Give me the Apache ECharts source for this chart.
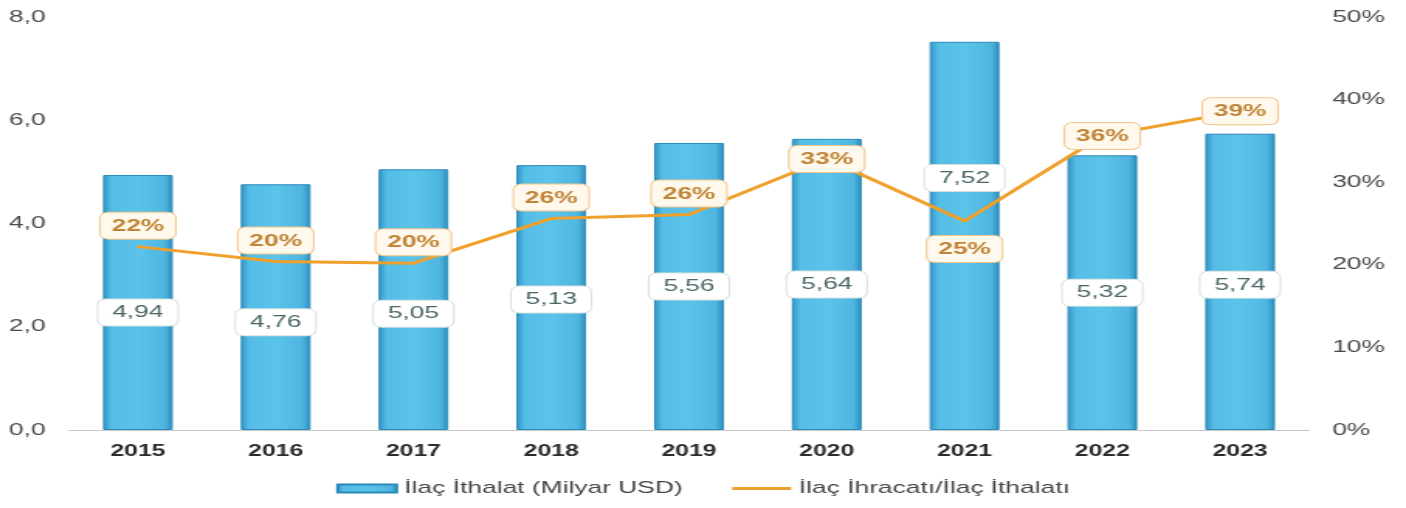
<!DOCTYPE html>
<html>
<head>
<meta charset="utf-8">
<script src="https://cdn.jsdelivr.net/npm/echarts@6/dist/echarts.min.js"></script>
<style>
    html, body { margin: 0; padding: 0; background: #fff; overflow: hidden; }
    /* the reference is stretched sideways, so draw narrow and widen it */
    #chart { width: 907px; height: 508px; transform: scaleX(1.5502); transform-origin: 0 0; }
</style>
</head>
<body>
<div id="chart"></div>
<script>
var years = ['2015', '2016', '2017', '2018', '2019', '2020', '2021', '2022', '2023'];
var ithalat = [4.94, 4.76, 5.05, 5.13, 5.56, 5.64, 7.52, 5.32, 5.74];
var oran = [22.2, 20.4, 20.2, 25.6, 26.1, 32.8, 25.3, 35.6, 38.6];
var leftTicks = [0, 2, 4, 6, 8];
var rightTicks = [0, 10, 20, 30, 40, 50];

var chart = echarts.init(document.getElementById('chart'));

var barColor = new echarts.graphic.LinearGradient(0, 0, 1, 0, [
    {offset: 0, color: '#2f93c4'},
    {offset: 0.12, color: '#55bde6'},
    {offset: 0.5, color: '#5cc3ea'},
    {offset: 0.88, color: '#4fb6e0'},
    {offset: 1, color: '#2c8cbc'}
]);

// value boxes are not all centred in the bars, nudge them like the original
var barShift = {'2015': 10, '2016': 15, '2017': 14, '2018': 2, '2023': 3, '2021': -58};
var barData = ithalat.map(function (v, i) {
    var d = {value: v};
    if (barShift[years[i]]) d.label = {offset: [0, barShift[years[i]]]};
    return d;
});
var linePos = {'2020': 'inside', '2021': 'bottom', '2022': 'inside', '2023': 'inside'};
var lineData = oran.map(function (v, i) {
    var d = {value: v};
    if (linePos[years[i]]) d.label = {position: linePos[years[i]], distance: 14};
    return d;
});

var option = {
    animation: false,
    textStyle: {fontFamily: 'Liberation Sans, Arial, sans-serif'},
    grid: {left: 44.5, right: 62.6, top: 17, bottom: 78},
    legend: {
        bottom: 6,
        left: 'center',
        itemGap: 32,
        itemWidth: 38,
        itemHeight: 8,
        textStyle: {fontSize: 17, color: '#444'},
        data: [
            {name: 'İlaç İthalat (Milyar USD)', icon: 'rect'},
            {name: 'İlaç İhracatı/İlaç İthalatı', icon: 'path://M0,0 L40,0 L40,3 L0,3 Z'}
        ]
    },
    xAxis: {
        type: 'category',
        data: years,
        axisLine: {lineStyle: {color: '#c8c8c8'}},
        axisTick: {show: false},
        axisLabel: {fontSize: 16, fontWeight: 'bold', color: '#2b2b2b', margin: 14}
    },
    yAxis: [
        {
            type: 'value',
            min: leftTicks[0],
            max: leftTicks[leftTicks.length - 1],
            interval: 2,
            splitLine: {show: false},
            axisLine: {show: false},
            axisLabel: {
                fontSize: 17, color: '#4a4a4a', margin: 15,
                formatter: function (v) { return v.toFixed(1).replace('.', ','); }
            }
        },
        {
            type: 'value',
            min: rightTicks[0],
            max: rightTicks[rightTicks.length - 1],
            interval: 10,
            splitLine: {show: false},
            axisLine: {show: false},
            axisLabel: {fontSize: 17, color: '#4a4a4a', margin: 15, formatter: '{value}%'}
        }
    ],
    series: [
        {
            name: 'İlaç İthalat (Milyar USD)',
            type: 'bar',
            barWidth: 45,
            data: barData,
            itemStyle: {color: barColor, borderColor: '#2a8ab8', borderWidth: 1},
            label: {
                show: true,
                position: 'inside',
                fontSize: 17,
                color: '#4a6666',
                backgroundColor: '#fff',
                borderColor: '#d6e0e0',
                borderWidth: 1,
                borderRadius: 5,
                padding: [5, 9, 4, 9],
                formatter: function (p) { return p.value.toFixed(2).replace('.', ','); }
            }
        },
        {
            name: 'İlaç İhracatı/İlaç İthalatı',
            type: 'line',
            yAxisIndex: 1,
            data: lineData,
            symbol: 'circle',
            symbolSize: 2,
            showSymbol: true,
            itemStyle: {color: '#f0a02c'},
            lineStyle: {color: '#f0a02c', width: 3},
            label: {
                show: true,
                position: 'top',
                distance: 7,
                fontSize: 17,
                fontWeight: 'bold',
                color: '#c08436',
                backgroundColor: '#fff8ec',
                borderColor: '#f3c48a',
                borderWidth: 1,
                borderRadius: 5,
                padding: [5, 7, 4, 7],
                formatter: function (p) { return Math.round(p.value) + '%'; }
            },
            z: 5
        }
    ]
};
chart.setOption(option);
window.onresize = chart.resize;
</script>
</body>
</html>
